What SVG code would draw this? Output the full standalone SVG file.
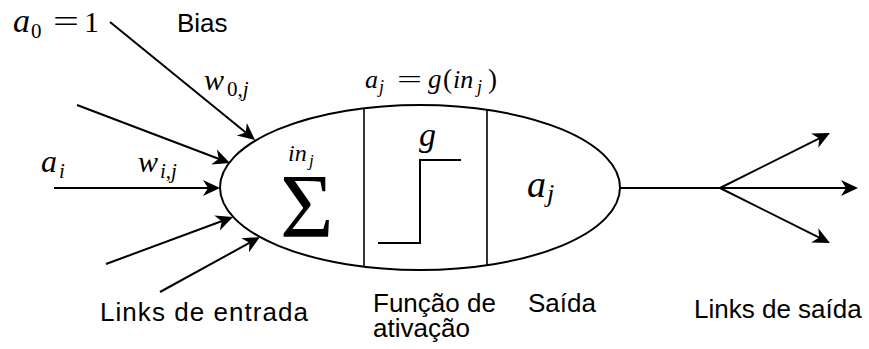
<svg xmlns="http://www.w3.org/2000/svg" width="869" height="349" viewBox="0 0 869 349">
<style>
.ln{stroke:#000;stroke-width:2;fill:none}
.m{font-family:"Liberation Serif","Times New Roman",serif;font-style:italic;fill:#000}
.r{font-family:"Liberation Serif","Times New Roman",serif;font-style:normal;fill:#000}
.s{font-family:"Liberation Sans",Arial,sans-serif;fill:#000;font-size:26px}
</style>
<defs>
<marker id="arr" markerWidth="20" markerHeight="18" viewBox="-18 -9 20 18" refX="-8" refY="0" orient="auto" markerUnits="userSpaceOnUse">
<path d="M0,0 L-17,-8 L-12,0 L-17,8 Z" fill="#000"/>
</marker>
</defs>
<rect width="869" height="349" fill="#fff"/>
<g id="connectors">
<line class="ln" x1="110" y1="22" x2="248.8" y2="135" marker-end="url(#arr)"/>
<line class="ln" x1="77" y1="105" x2="222.5" y2="160.2" marker-end="url(#arr)"/>
<line class="ln" x1="54" y1="188" x2="212" y2="188" marker-end="url(#arr)"/>
<line class="ln" x1="106" y1="264" x2="225.5" y2="219.8" marker-end="url(#arr)"/>
<line class="ln" x1="160" y1="292" x2="253" y2="240.9" marker-end="url(#arr)"/>
<line class="ln" x1="620" y1="188" x2="720" y2="188"/>
<line class="ln" x1="720" y1="188" x2="822.8" y2="136.6" marker-end="url(#arr)"/>
<line class="ln" x1="720" y1="188" x2="850" y2="188" marker-end="url(#arr)"/>
<line class="ln" x1="720" y1="188" x2="822.8" y2="239.4" marker-end="url(#arr)"/>
</g>
<g id="neuron">
<ellipse class="ln" cx="420" cy="187.5" rx="200" ry="82.5"/>
<line x1="364" y1="108" x2="364" y2="267" stroke="#000" stroke-width="1.6"/>
<line x1="487" y1="109" x2="487" y2="266" stroke="#000" stroke-width="1.6"/>
</g>
<g id="sum">
<text class="m" x="288" y="161" font-size="24">in</text>
<text class="m" x="309" y="166" font-size="17">j</text>
<text class="r" x="280" y="237" font-size="92">Σ</text>
</g>
<g id="activation">
<polyline class="ln" points="378,243 420,243 420,160 461,160"/>
<text class="m" x="419" y="146" font-size="34">g</text>
</g>
<g id="output">
<text class="m" x="527" y="197" font-size="38">a</text>
<text class="m" x="547" y="202" font-size="26">j</text>
</g>
<g id="equation">
<text class="m" x="365" y="88" font-size="26">a</text>
<text class="m" x="379" y="93" font-size="18">j</text>
<text class="r" x="397" y="88" font-size="26" textLength="25" lengthAdjust="spacingAndGlyphs">=</text>
<text class="m" x="428" y="88" font-size="27">g</text>
<text class="r" x="443" y="88" font-size="27">(</text>
<text class="m" x="453" y="88" font-size="26">in</text>
<text class="m" x="477" y="93" font-size="18">j</text>
<text class="r" x="488" y="88" font-size="27">)</text>
</g>
<g id="inputs-labels">
<text class="m" x="13" y="32" font-size="34">a</text>
<text class="r" x="31" y="38" font-size="21">0</text>
<text class="r" x="53" y="32" font-size="32" textLength="26" lengthAdjust="spacingAndGlyphs">=</text>
<text class="r" x="84" y="32" font-size="30">1</text>
<text class="s" x="177" y="32" font-size="25">Bias</text>
<text class="m" x="204" y="90" font-size="30">w</text>
<text class="r" x="227" y="96" font-size="21">0,<tspan class="m">j</tspan></text>
<text class="m" x="41" y="172" font-size="32">a</text>
<text class="m" x="59" y="178" font-size="21">i</text>
<text class="m" x="138" y="172" font-size="30">w</text>
<text class="m" x="160" y="178" font-size="21">i<tspan class="r">,</tspan>j</text>
</g>
<g id="bottom-labels">
<text class="s" x="100" y="321" font-size="27" textLength="208">Links de entrada</text>
<text class="s" x="373" y="312" font-size="25">Função de</text>
<text class="s" x="373" y="337" font-size="25">ativação</text>
<text class="s" x="528" y="312">Saída</text>
<text class="s" x="694" y="318">Links de saída</text>
</g>
</svg>
